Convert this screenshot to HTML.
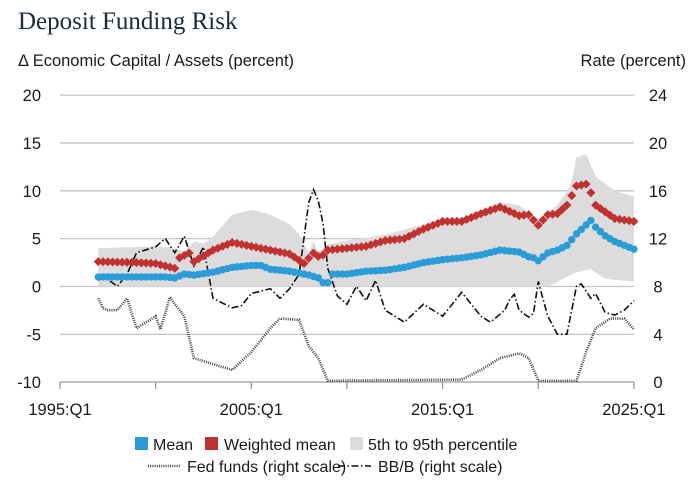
<!DOCTYPE html>
<html><head><meta charset="utf-8"><style>
body{margin:0;background:#fff;}
svg text{font-family:"Liberation Sans",sans-serif;fill:#1a1a1a;}
</style></head><body>
<svg id="s" width="697" height="483" xmlns="http://www.w3.org/2000/svg">
<text x="18" y="29" style="font-family:'Liberation Serif',serif;font-size:25px;fill:#1d2b3a">Deposit Funding Risk</text>
<text x="18" y="66" font-size="16.5">Δ Economic Capital / Assets (percent)</text>
<text x="686" y="66" font-size="16.5" text-anchor="end">Rate (percent)</text>
<g id="g"></g>
</svg>
<script>
const NS="http://www.w3.org/2000/svg",g=document.getElementById('g');
function el(t,a){const e=document.createElementNS(NS,t);for(const k in a)e.setAttribute(k,a[k]);g.appendChild(e);return e;}
const X=y=>60+(y-1995)*19.13, YL=v=>286.5-v*9.57, YR=v=>382-v*11.96;
function interp(p,t){for(let i=0;i<p.length-1;i++){if(t<=p[i+1][0]){const f=(t-p[i][0])/(p[i+1][0]-p[i][0]);return p[i][1]+f*(p[i+1][1]-p[i][1]);}}return p[p.length-1][1];}
function pts(a){const r=[];for(let i=0;i<a.length;i+=2)r.push([a[i],a[i+1]]);return r;}
const mean=pts([1997,1.0,1999,1.0,2000.5,1.0,2001,0.9,2001.5,1.3,2002,1.2,2003,1.5,2004,2.0,2005,2.2,2005.5,2.2,2006,1.8,2007,1.6,2008,1.2,2008.5,0.9,2008.75,0.4,2009,0.4,2009.25,1.3,2010,1.3,2011,1.6,2012,1.7,2013,2.0,2014,2.5,2015,2.8,2016,3.0,2017,3.3,2018,3.8,2019,3.6,2019.5,3.1,2019.75,3.0,2020,2.7,2020.5,3.5,2021,3.8,2021.5,4.3,2022,5.5,2022.75,6.9,2023,6.2,2023.5,5.3,2024,4.7,2025,3.9]);
const wm=pts([1997,2.6,1999,2.5,2000,2.4,2001,1.9,2001.25,3.0,2001.75,3.5,2002,2.6,2003,3.8,2004,4.6,2005,4.2,2006,3.8,2007,3.4,2007.75,2.4,2008.25,3.5,2008.6,3.0,2009,3.8,2010,4.0,2011,4.2,2012,4.8,2013,5.0,2014,6.0,2015,6.8,2016,6.8,2017,7.6,2018,8.3,2019,7.4,2019.5,7.5,2020,6.4,2020.5,7.5,2021,7.6,2021.5,8.5,2022,10.5,2022.5,10.7,2022.75,9.8,2023,8.5,2023.5,7.8,2024,7.1,2025,6.8]);
const up=pts([1997,4.0,2000,4.2,2001,4.0,2001.5,3.6,2002,4.7,2002.5,4.5,2003,5.2,2004,7.5,2005,8.0,2006,7.5,2007,6.5,2007.5,5.5,2008,3.5,2008.25,4.7,2008.5,3.6,2009,4.4,2010,4.8,2012,5.4,2014,6.5,2016,7.2,2018,8.8,2019,8.5,2020,7.0,2021,8.5,2021.7,10.5,2022,13.5,2022.5,13.8,2023,11.5,2024,10.0,2025,9.4]);
const lo=pts([1997,0,2020.5,0,2021,0.5,2022,1.5,2022.75,1.8,2023.5,0.8,2025,0.5]);
const ff=pts([1997,7.0,1997.3,6.0,1998,6.0,1998.5,7.0,1999,4.5,1999.5,5.0,2000,5.5,2000.25,4.4,2000.75,7.1,2001,6.5,2001.5,5.5,2002,2.0,2003,1.5,2004,1.0,2005,2.5,2006,4.5,2006.5,5.3,2007.5,5.2,2008,3.0,2008.5,2.0,2009,0.1,2016,0.2,2017,1.0,2018,2.0,2019,2.4,2019.5,2.0,2020,0.1,2022,0.1,2022.5,2.5,2023,4.5,2023.75,5.3,2024.5,5.3,2025,4.4]);
const bb=pts([1997,8.5,1997.3,8.8,1998,8.0,1998.5,9.0,1999,10.8,2000,11.3,2000.5,12.0,2001,10.8,2001.5,12.2,2002,9.7,2002.5,11.3,2003,7.0,2004,6.2,2004.5,6.4,2005,7.4,2006,7.8,2006.5,7.0,2007,7.8,2007.5,9.0,2008,15.0,2008.3,16.3,2008.7,14,2009,9.5,2009.5,7.2,2010,6.5,2010.5,8.0,2011,6.8,2011.5,8.5,2012,6.0,2013,5.0,2014,6.5,2015,5.5,2016,7.5,2017,5.5,2017.5,5.0,2018.25,6.0,2018.7,7.6,2019,6.0,2019.7,5.2,2020,8.4,2020.5,5.5,2021,4.0,2021.5,4.0,2022,8.0,2022.25,8.2,2022.75,7.0,2023,7.4,2023.5,5.8,2024,5.6,2024.5,6.0,2025,6.8]);
for(let v=-10;v<=20;v+=5){const y=YL(v);
 if(v>-10)el('line',{x1:60,x2:634,y1:y,y2:y,stroke:'#c4c4c4','stroke-width':1.3});
 el('text',{x:41,y:y+6,'font-size':16.5,'text-anchor':'end'}).textContent=v;
 el('text',{x:658,y:y+6,'font-size':16.5,'text-anchor':'middle'}).textContent=(v+10)*0.8;}
el('line',{x1:60,x2:634,y1:382,y2:382,stroke:'#999','stroke-width':1.3});
for(let i=0;i<=6;i++){const x=60+i*95.65;el('line',{x1:x,x2:x,y1:382,y2:389,stroke:'#999','stroke-width':1.3});}
[[0,'1995:Q1'],[2,'2005:Q1'],[4,'2015:Q1'],[6,'2025:Q1']].forEach(([i,t])=>{el('text',{x:60+i*95.65,y:415,'font-size':16.5,'text-anchor':'middle'}).textContent=t;});
const Q=[];for(let t=1997;t<=2025.001;t+=0.25)Q.push(t);
let d='';Q.forEach((t,i)=>d+=(i?'L':'M')+X(t).toFixed(1)+','+YL(interp(up,t)).toFixed(1));
for(let i=Q.length-1;i>=0;i--)d+='L'+X(Q[i]).toFixed(1)+','+YL(interp(lo,Q[i])).toFixed(1);
el('path',{d:d+'Z',fill:'#dcdcdc'});
function line(p,f,attrs){let s='';for(let t=1997;t<=2025.001;t+=0.25)s+=(s?'L':'M')+X(t).toFixed(1)+','+f(interp(p,t)).toFixed(1);el('path',Object.assign({d:s,fill:'none'},attrs));}
line(ff,YR,{stroke:'#444','stroke-width':2.6,'stroke-dasharray':'1 1.2'});
line(bb,YR,{stroke:'#111','stroke-width':1.6,'stroke-dasharray':'7 2.5 1.5 2.5'});
Q.forEach(t=>{const x=X(t),y=YL(interp(wm,t));el('rect',{x:x-3.2,y:y-3.2,width:6.4,height:6.4,fill:'#c1312f',transform:`rotate(45 ${x} ${y})`});});
Q.forEach(t=>{el('circle',{cx:X(t),cy:YL(interp(mean,t)),r:3.7,fill:'#2a9dd8'});});
el('rect',{x:135,y:437,width:13,height:13,fill:'#2a9dd8'});
el('text',{x:153,y:450,'font-size':16}).textContent='Mean';
el('rect',{x:205,y:437,width:13,height:13,fill:'#c1312f'});
el('text',{x:224,y:450,'font-size':16}).textContent='Weighted mean';
el('rect',{x:350,y:437,width:13,height:13,fill:'#dcdcdc'});
el('text',{x:368,y:450,'font-size':16}).textContent='5th to 95th percentile';
el('line',{x1:148,x2:180,y1:466,y2:466,stroke:'#444','stroke-width':2.6,'stroke-dasharray':'1 1.2'});
el('text',{x:187,y:472,'font-size':16}).textContent='Fed funds (right scale)';
el('line',{x1:338,x2:371,y1:466,y2:466,stroke:'#111','stroke-width':1.6,'stroke-dasharray':'7 2.5 1.5 2.5'});
el('text',{x:378,y:472,'font-size':16}).textContent='BB/B (right scale)';
</script>
</body></html>
